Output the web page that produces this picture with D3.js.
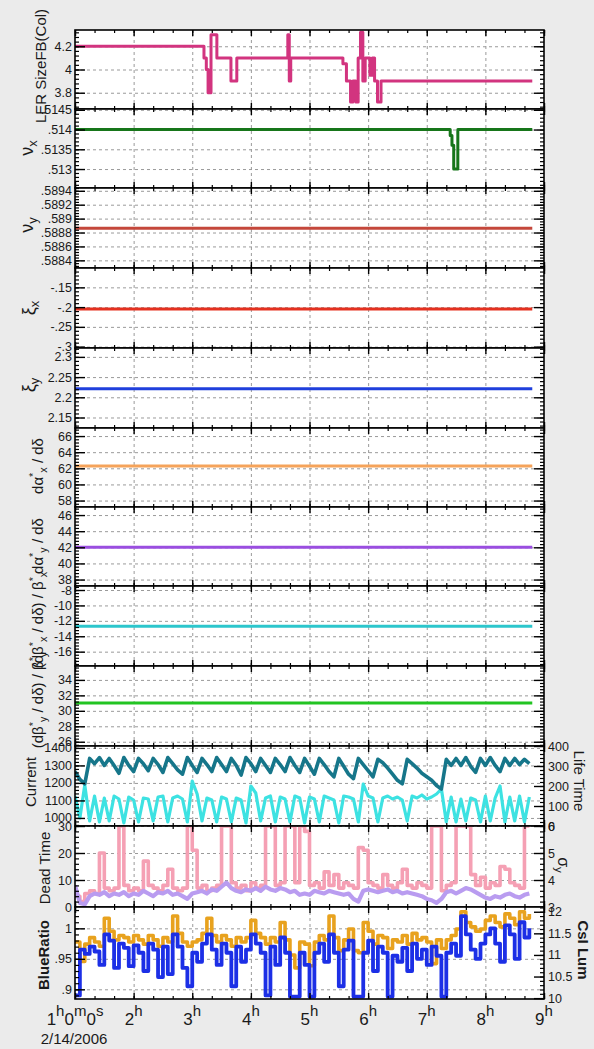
<!DOCTYPE html>
<html>
<head>
<meta charset="utf-8">
<script src="https://cdn.jsdelivr.net/npm/d3@7"></script>
<style>
  body { margin: 0; background: #ebebeb; }
  svg { display: block; font-family: "Liberation Sans", Arial, sans-serif; }
</style>
</head>
<body>
<svg id="chart" width="594" height="1049"></svg>
<script>
// Time axis, hours of 2/14/2006
const hourTicks = [1, 2, 3, 4, 5, 6, 7, 8, 9];
const gridHours = [2, 3, 4, 5, 6, 7, 8];

// Logged series start at 1h, one sample every 5 minutes
const sampleStart = 1;
const sampleStep = 5 / 60;

// LER SizeFB(Col) - set point changes
const sizeFbTimes  = [1.00, 3.20, 3.24, 3.27, 3.32, 3.42, 3.66, 3.76, 4.63, 4.655, 4.68, 5.57, 5.63, 5.70, 5.74, 5.79, 5.83, 5.87, 5.91, 5.95, 6.03, 6.07, 6.11, 6.16, 6.22, 8.80];
const sizeFbValues = [4.20, 4.10, 4.00, 3.80, 4.30, 4.10, 3.90, 4.10, 4.30, 3.90, 4.10, 4.05, 3.90, 3.72, 3.90, 3.72, 4.10, 4.32, 3.90, 4.10, 3.95, 4.10, 3.90, 3.72, 3.90, 3.90];

// tunes
const nuxTimes  = [1.0, 7.40, 7.43, 7.46, 7.53, 8.80];
const nuxValues = [0.5140, 0.51385, 0.5136, 0.5130, 0.5140, 0.5140];
const flatTimes = [1.0, 8.8];
const nuyValues = [0.58886, 0.58886];
const xixValues = [-0.205, -0.205];
const xiyValues = [2.221, 2.221];
const dAlphaXValues = [62.3, 62.3];
const dAlphaYValues = [42.0, 42.0];
const dBetaXValues = [-12.7, -12.7];
const dBetaYValues = [31.0, 31.0];

// beam current (mA) and lifetime (min)
const currentValues = [
  1265, 1220, 1195, 1340, 1310, 1345, 1300, 1340, 1300, 1255,
  1345, 1300, 1265, 1340, 1310, 1270, 1340, 1305, 1260, 1345,
  1310, 1275, 1250, 1345, 1300, 1260, 1340, 1305, 1265, 1345,
  1305, 1265, 1340, 1300, 1245, 1345, 1310, 1265, 1340, 1300,
  1260, 1340, 1305, 1265, 1345, 1300, 1260, 1340, 1295, 1250,
  1340, 1305, 1265, 1235, 1340, 1295, 1250, 1225, 1340, 1305,
  1270, 1235, 1335, 1315, 1285, 1250, 1215, 1195, 1335, 1310,
  1285, 1255, 1235, 1215, 1185, 1165, 1335, 1300, 1340, 1300,
  1345, 1295, 1260, 1340, 1300, 1345, 1300, 1265, 1340, 1300,
  1340, 1305, 1335, 1310
];
const lifeTimeValues = [
  150, 40, 205, 25, 150, 20, 140, 25, 150, 135,
  15, 145, 130, 20, 140, 135, 25, 145, 150, 20,
  140, 150, 135, 20, 225, 160, 25, 140, 130, 20,
  145, 135, 20, 140, 130, 15, 200, 165, 25, 140,
  150, 20, 145, 135, 20, 150, 140, 15, 145, 135,
  20, 150, 140, 130, 15, 150, 145, 135, 20, 210,
  150, 140, 20, 140, 150, 135, 145, 130, 25, 150,
  140, 155, 135, 145, 160, 185, 20, 145, 20, 135,
  25, 140, 130, 20, 150, 25, 140, 200, 20, 145,
  25, 150, 20, 145
];

// dead time and sigma y
const deadTimeValues = [
  4, 2, 5, 6, 5, 20, 7, 6, 7, 30,
  8, 6, 7, 6, 17, 8, 7, 6, 8, 14,
  7, 6, 7, 30, 21, 7, 8, 6, 7, 8,
  30, 30, 9, 7, 8, 6, 9, 7, 8, 30,
  30, 8, 9, 30, 30, 9, 30, 28, 8, 9,
  7, 13, 8, 12, 7, 9, 8, 7, 22, 21,
  9, 8, 7, 12, 8, 7, 9, 14, 8, 7,
  9, 8, 7, 30, 30, 6, 8, 9, 30, 30,
  30, 12, 8, 11, 7, 9, 8, 15, 14, 9,
  8, 7, 30, 30
];
const sigmaYValues = [
  3.8, 3.15, 3.1, 3.4, 3.5, 3.45, 3.55, 3.4, 3.5, 3.45,
  3.55, 3.4, 3.5, 3.45, 3.6, 3.5, 3.4, 3.55, 3.5, 3.6,
  3.45, 3.5, 3.4, 3.3, 3.5, 3.55, 3.6, 3.5, 3.65, 3.6,
  3.75, 3.9, 3.7, 3.6, 3.55, 3.65, 3.6, 3.7, 3.6, 3.75,
  3.65, 3.6, 3.7, 3.65, 3.55, 3.6, 3.45, 3.5, 3.45, 3.6,
  3.55, 3.5, 3.6, 3.55, 3.5, 3.45, 3.5, 3.3, 3.2, 3.6,
  3.65, 3.6, 3.55, 3.6, 3.65, 3.55, 3.6, 3.5, 3.55, 3.5,
  3.45, 3.4, 3.3, 3.25, 3.15, 3.3, 3.55, 3.6, 3.5, 3.6,
  3.7, 3.65, 3.55, 3.45, 3.35, 3.3, 3.4, 3.35, 3.45, 3.5,
  3.4, 3.35, 3.45, 3.5
];

// luminosity monitors
const blueRatioValues = [
  0.890, 0.965, 0.958, 0.970, 0.962, 0.940, 0.990, 0.980, 0.935, 0.975,
  0.968, 0.938, 0.972, 0.960, 0.930, 0.975, 0.965, 0.920, 0.970, 0.925,
  0.990, 0.970, 0.935, 0.905, 0.960, 0.945, 0.975, 0.990, 0.965, 0.940,
  0.975, 0.960, 0.905, 0.970, 0.945, 0.965, 0.990, 0.975, 0.960, 0.890,
  0.970, 0.940, 0.985, 0.960, 0.888, 0.888, 0.960, 0.940, 0.888, 0.960,
  0.975, 0.945, 0.990, 0.960, 0.905, 0.965, 0.980, 0.888, 0.888, 0.960,
  0.980, 0.930, 0.970, 0.960, 0.888, 0.955, 0.945, 0.968, 0.930, 0.975,
  0.950, 0.965, 0.940, 0.970, 0.955, 0.888, 0.960, 0.975, 0.955, 1.020,
  0.990, 0.965, 0.950, 0.975, 0.990, 1.000, 0.975, 0.945, 1.005, 0.990,
  0.950, 1.010, 0.985, 1.000
];
const csiLumValues = [
  11.30, 10.85, 11.25, 11.40, 11.30, 11.20, 11.85, 11.55, 11.35, 11.45,
  11.40, 11.30, 11.45, 11.35, 11.25, 11.45, 11.35, 11.20, 11.40, 11.30,
  11.90, 11.50, 11.30, 11.20, 11.30, 11.35, 11.50, 11.85, 11.45, 11.30,
  11.45, 11.35, 11.20, 11.40, 11.30, 11.40, 11.80, 11.50, 11.40, 11.25,
  11.40, 11.30, 11.75, 11.35, 11.00, 10.70, 11.30, 11.25, 10.75, 11.30,
  11.45, 11.35, 11.90, 11.40, 11.10, 11.35, 11.60, 11.10, 11.05, 11.75,
  11.55, 11.25, 11.45, 11.40, 11.15, 11.35, 11.30, 11.45, 11.25, 11.50,
  11.35, 11.40, 11.30, 10.80, 11.35, 11.15, 11.35, 11.45, 11.60, 12.00,
  11.75, 11.65, 11.55, 11.60, 11.80, 11.90, 11.75, 11.65, 11.95, 11.85,
  11.70, 12.00, 11.85, 11.95
];

// y tick labels per panel
const sizeFbTicks = [3.8, 4, 4.2];
const nuxTicks = [0.513, 0.5135, 0.514, 0.5145];
const nuyTicks = [0.5884, 0.5886, 0.5888, 0.589, 0.5892, 0.5894];
const xixTicks = [-0.3, -0.25, -0.2, -0.15];
const xiyTicks = [2.15, 2.2, 2.25, 2.3];
const dAlphaXTicks = [58, 60, 62, 64, 66];
const dAlphaYTicks = [38, 40, 42, 44, 46];
const dBetaXTicks = [-16, -14, -12, -10, -8];
const dBetaYTicks = [26, 28, 30, 32, 34];
const currentTicks = [1000, 1100, 1200, 1300, 1400];
const lifeTimeTicks = [0, 100, 200, 300, 400];
const deadTimeTicks = [0, 10, 20, 30];
const sigmaYTicks = [3, 4, 5, 6];
const blueRatioTicks = [0.9, 0.95, 1];
const csiLumTicks = [10, 10.5, 11, 11.5, 12];

const sampleHours = currentValues.map((_, i) => sampleStart + i * sampleStep);

// ---- layout ----
const W = 594, H = 1049;
const left = 75, right = 544;
const panelEdges = [30, 109, 188, 268, 348, 428, 507, 586, 666, 746, 826, 907, 999];

const step = d3.curveStepAfter, lin = d3.curveLinear;
const panels = [
  { domain: [3.66, 4.34], ticks: sizeFbTicks,
    label: { parts: [['LER SizeFB(Col)']], cx: 41, cy: 66, size: 15 },
    series: [{ t: sizeFbTimes, v: sizeFbValues, color: '#d2347f', curve: step, width: 3 }] },
  { domain: [0.51252, 0.51452], ticks: nuxTicks,
    label: { parts: [['ν'], ['x', 'sub']], cx: 27, cy: 148, size: 18 },
    series: [{ t: nuxTimes, v: nuxValues, color: '#17761a', curve: step, width: 3 }] },
  { domain: [0.58829, 0.58944], ticks: nuyTicks,
    label: { parts: [['ν'], ['y', 'sub']], cx: 27, cy: 225, size: 18 },
    series: [{ t: flatTimes, v: nuyValues, color: '#c4473b', curve: lin, width: 3 }] },
  { domain: [-0.3035, -0.101], ticks: xixTicks,
    label: { parts: [['ξ'], ['x', 'sub']], cx: 29, cy: 308, size: 18 },
    series: [{ t: flatTimes, v: xixValues, color: '#e5301f', curve: lin, width: 3 }] },
  { domain: [2.124, 2.322], ticks: xiyTicks,
    label: { parts: [['ξ'], ['y', 'sub']], cx: 29, cy: 385, size: 18 },
    series: [{ t: flatTimes, v: xiyValues, color: '#1f3fdc', curve: lin, width: 3 }] },
  { domain: [57.2, 67], ticks: dAlphaXTicks,
    label: { parts: [['dα'], ['*', 'sup'], ['x', 'sub'], [' / dδ']], cx: 38, cy: 466, size: 15 },
    series: [{ t: flatTimes, v: dAlphaXValues, color: '#f5a35a', curve: lin, width: 3 }] },
  { domain: [37.2, 47], ticks: dAlphaYTicks,
    label: { parts: [['dα'], ['*', 'sup'], ['y', 'sub'], [' / dδ']], cx: 38, cy: 546, size: 15 },
    series: [{ t: flatTimes, v: dAlphaYValues, color: '#9a4ee0', curve: lin, width: 3 }] },
  { domain: [-17.86, -7.48], ticks: dBetaXTicks,
    label: { parts: [['(dβ'], ['*', 'sup'], ['x', 'sub'], [' / dδ) / β'], ['*', 'sup'], ['x', 'sub']], cx: 38, cy: 620, size: 15 },
    series: [{ t: flatTimes, v: dBetaXValues, color: '#2cc6cc', curve: lin, width: 3 }] },
  { domain: [25.45, 35.8], ticks: dBetaYTicks,
    label: { parts: [['(dβ'], ['*', 'sup'], ['y', 'sub'], [' / dδ) / β'], ['*', 'sup'], ['y', 'sub']], cx: 38, cy: 700, size: 15 },
    series: [{ t: flatTimes, v: dBetaYValues, color: '#22c422', curve: lin, width: 3 }] },
  { domain: [954, 1411], ticks: currentTicks,
    label: { parts: [['Current']], cx: 31, cy: 782, size: 15 },
    right: { domain: [0, 400], ticks: lifeTimeTicks,
      label: { parts: [['Life Time']], cx: 579, cy: 781, size: 15 } },
    series: [
      { t: sampleHours, v: lifeTimeValues, color: '#3de2e2', curve: lin, width: 3.2, axis: 'right' },
      { t: sampleHours, v: currentValues, color: '#16768a', curve: lin, width: 3.6 }] },
  { domain: [0, 30], ticks: deadTimeTicks,
    label: { parts: [['Dead Time']], cx: 45, cy: 868, size: 15 },
    right: { domain: [3, 6], ticks: sigmaYTicks,
      label: { parts: [['σ'], ['y', 'sub']], cx: 564, cy: 865, size: 16 } },
    series: [
      { t: sampleHours, v: deadTimeValues, color: '#f5a0b4', curve: step, width: 3.6 },
      { t: sampleHours, v: sigmaYValues, color: '#b99cf0', curve: lin, width: 4.2, axis: 'right' }] },
  { domain: [0.8841, 1.035], ticks: blueRatioTicks,
    label: { parts: [['BlueRatio']], cx: 44, cy: 955, size: 15, weight: 'bold' },
    right: { domain: [9.98, 12.11], ticks: csiLumTicks,
      label: { parts: [['CsI Lum']], cx: 583, cy: 950, size: 15, weight: 'bold' } },
    series: [
      { t: sampleHours, v: csiLumValues, color: '#e8a21e', curve: step, width: 3.6, axis: 'right' },
      { t: sampleHours, v: blueRatioValues, color: '#1c2fe6', curve: step, width: 3.8 }] }
];

const x = d3.scaleLinear().domain([1, 9]).range([left, right]);
const minorHours = d3.range(1, 9.001, 1 / 3);

const svg = d3.select('#chart');
const defs = svg.append('defs');
svg.append('rect').attr('width', W).attr('height', H).attr('fill', '#ebebeb');

const fmt = v => String(+v.toFixed(6)).replace(/^(-?)0\./, '$1.');

function minorValues(domain, ticks, n) {
    const d = (ticks[1] - ticks[0]) / n;
    const lo = Math.min(...domain), hi = Math.max(...domain);
    return d3.range(Math.ceil(lo / d - 1e-6), Math.floor(hi / d + 1e-6) + 1).map(k => +(k * d).toFixed(8));
}

function styleAxis(g, width) {
    g.select('.domain').remove();
    g.selectAll('line').attr('stroke', '#000').attr('stroke-width', width || 1.2);
    g.selectAll('text').attr('font-size', 12.5).attr('font-family', null).attr('fill', '#1a1a1a');
}

// rotated label with sub/superscripts
function richLabel(parent, spec, rotate) {
    const size = spec.size;
    const bx = rotate < 0 ? spec.cx + size * 0.36 : spec.cx - size * 0.36;
    const t = parent.append('text')
        .attr('transform', `translate(${bx},${spec.cy}) rotate(${rotate})`)
        .attr('text-anchor', 'middle')
        .attr('font-size', size)
        .attr('font-weight', spec.weight || 'normal')
        .attr('fill', '#1a1a1a');
    let shift = 0;
    spec.parts.forEach(([str, pos]) => {
        const target = pos === 'sup' ? -size * 0.42 : pos === 'sub' ? size * 0.22 : 0;
        t.append('tspan')
            .attr('dy', target - shift)
            .attr('font-size', pos ? size * 0.72 : size)
            .text(str);
        shift = target;
    });
}

panels.forEach((p, i) => {
    const top = panelEdges[i], bottom = panelEdges[i + 1];
    const h = bottom - top;
    const y = d3.scaleLinear().domain(p.domain).range([bottom, top]);
    const yR = p.right ? d3.scaleLinear().domain(p.right.domain).range([bottom, top]) : null;
    const g = svg.append('g');

    defs.append('clipPath').attr('id', `clip${i}`)
        .append('rect').attr('x', left).attr('y', top).attr('width', right - left).attr('height', h);

    g.append('rect').attr('x', left).attr('y', top).attr('width', right - left).attr('height', h).attr('fill', '#fff');

    // dashed grid
    g.append('g').attr('transform', `translate(0,${bottom})`)
        .call(d3.axisBottom(x).tickValues(gridHours).tickSize(-h).tickFormat(''))
        .call(a => { a.select('.domain').remove(); a.selectAll('line').attr('stroke', '#9a9a9a').attr('stroke-dasharray', '3,3'); });
    g.append('g').attr('transform', `translate(${left},0)`)
        .call(d3.axisLeft(y).tickValues(p.ticks).tickSize(-(right - left)).tickFormat(''))
        .call(a => { a.select('.domain').remove(); a.selectAll('line').attr('stroke', '#9a9a9a').attr('stroke-dasharray', '3,3'); });

    // data
    p.series.forEach(s => {
        const ys = s.axis === 'right' ? yR : y;
        const line = d3.line().x(d => x(d[0])).y(d => ys(d[1])).curve(s.curve);
        g.append('path')
            .attr('clip-path', `url(#clip${i})`)
            .attr('d', line(s.t.map((t, k) => [t, s.v[k]])))
            .attr('fill', 'none')
            .attr('stroke', s.color)
            .attr('stroke-width', s.width)
            .attr('stroke-linejoin', 'round');
    });

    g.append('rect').attr('x', left).attr('y', top).attr('width', right - left).attr('height', h)
        .attr('fill', 'none').attr('stroke', '#000').attr('stroke-width', 1.6);

    // time ticks, pointing inward on top and bottom edges
    g.append('g').attr('transform', `translate(0,${top})`)
        .call(d3.axisTop(x).tickValues(hourTicks).tickSize(-6).tickFormat(''))
        .call(a => styleAxis(a, 1.4));
    g.append('g').attr('transform', `translate(0,${top})`)
        .call(d3.axisTop(x).tickValues(minorHours).tickSize(-3).tickFormat(''))
        .call(a => styleAxis(a));
    g.append('g').attr('transform', `translate(0,${bottom})`)
        .call(d3.axisBottom(x).tickValues(hourTicks).tickSize(-6).tickFormat(''))
        .call(a => styleAxis(a, 1.4));
    g.append('g').attr('transform', `translate(0,${bottom})`)
        .call(d3.axisBottom(x).tickValues(minorHours).tickSize(-3).tickFormat(''))
        .call(a => styleAxis(a));

    // left value axis
    g.append('g').attr('transform', `translate(${left},0)`)
        .call(d3.axisLeft(y).tickValues(p.ticks).tickSize(-10).tickPadding(3).tickFormat(fmt))
        .call(a => styleAxis(a, 1.4));
    g.append('g').attr('transform', `translate(${left},0)`)
        .call(d3.axisLeft(y).tickValues(minorValues(p.domain, p.ticks, 5)).tickSize(-4).tickFormat(''))
        .call(a => styleAxis(a));

    // right axis: own scale or a mirror of the left one
    const rs = yR || y;
    const rTicks = p.right ? p.right.ticks : p.ticks;
    const rDomain = p.right ? p.right.domain : p.domain;
    g.append('g').attr('transform', `translate(${right},0)`)
        .call(d3.axisRight(rs).tickValues(rTicks).tickSize(-10).tickPadding(4).tickFormat(p.right ? fmt : ''))
        .call(a => styleAxis(a, 1.4));
    g.append('g').attr('transform', `translate(${right},0)`)
        .call(d3.axisRight(rs).tickValues(minorValues(rDomain, rTicks, 5)).tickSize(-4).tickFormat(''))
        .call(a => styleAxis(a));

    richLabel(svg, p.label, -90);
    if (p.right) richLabel(svg, p.right.label, 90);
});

// hour labels under the last panel
const hourLabels = svg.append('g');
hourTicks.forEach(hr => {
    const t = hourLabels.append('text')
        .attr('x', x(hr)).attr('y', 1025)
        .attr('text-anchor', 'middle')
        .attr('font-size', 17)
        .attr('fill', '#1a1a1a');
    const parts = hr === 1 ? [['1', 0], ['h', 1], ['0', 0], ['m', 1], ['0', 0], ['s', 1]] : [[String(hr), 0], ['h', 1]];
    let up = 0;
    parts.forEach(([s, sup]) => {
        const target = sup ? -9 : 0;
        t.append('tspan').attr('dy', target - up).attr('font-size', sup ? 15 : 17).text(s);
        up = target;
    });
});
svg.append('text')
    .attr('x', 74).attr('y', 1044)
    .attr('text-anchor', 'middle')
    .attr('font-size', 15)
    .attr('fill', '#1a1a1a')
    .text('2/14/2006');
</script>
</body>
</html>
